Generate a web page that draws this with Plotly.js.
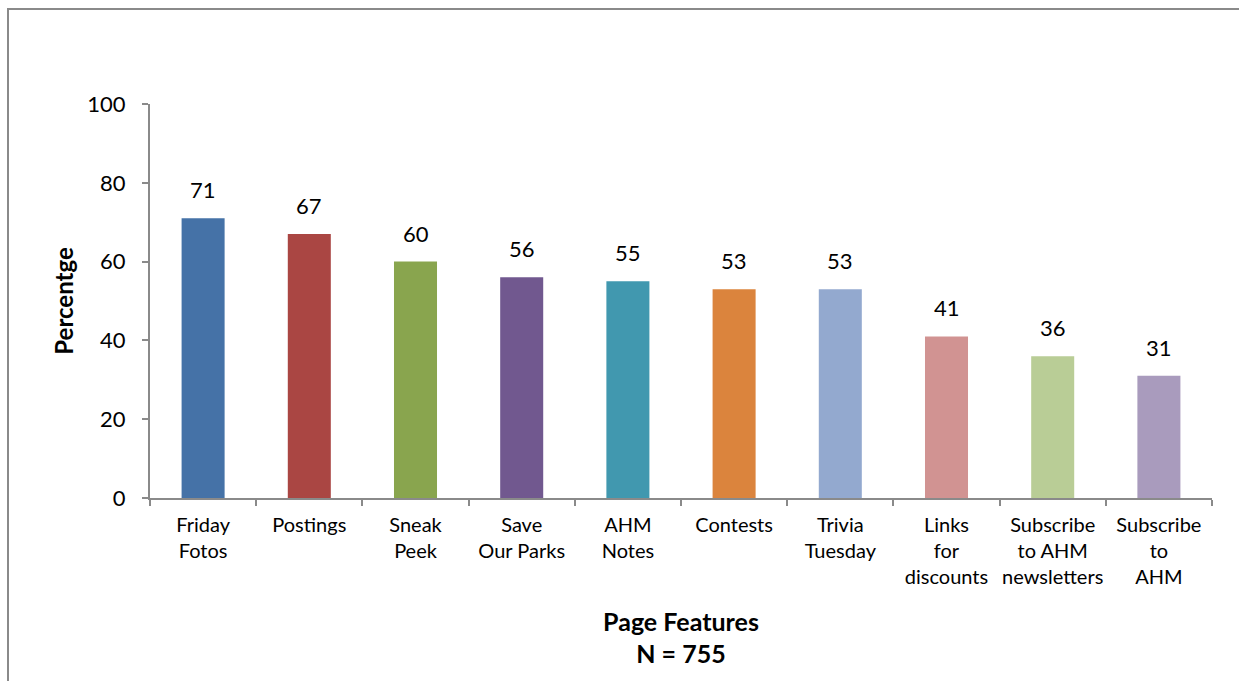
<!DOCTYPE html>
<html>
<head>
<meta charset="utf-8">
<script src="https://cdn.plot.ly/plotly-3.0.1.min.js"></script>
<style>
  html, body { margin: 0; padding: 0; background: #ffffff; overflow: hidden; }
  #wrap { position: relative; width: 1239px; height: 681px; }
  #frame { position: absolute; left: 7px; top: 8px; width: 1260px; height: 700px;
           border-left: 2px solid #8a8a8a; border-top: 2px solid #8a8a8a; pointer-events: none; z-index: 5; }
  #chart { position: absolute; left: 0; top: 0; width: 1239px; height: 681px; }
</style>
</head>
<body>
<div id="wrap">
  <div id="chart"></div>
  <div id="frame"></div>
</div>
<script>
// Share of respondents using each page feature (%)
const categories = [
  "Friday<br>Fotos",
  "Postings",
  "Sneak<br>Peek",
  "Save<br>Our Parks",
  "AHM<br>Notes",
  "Contests",
  "Trivia<br>Tuesday",
  "Links<br>for<br>discounts",
  "Subscribe<br>to AHM<br>newsletters",
  "Subscribe<br>to<br>AHM"
];
const percentages = [71, 67, 60, 56, 55, 53, 53, 41, 36, 31];
const barColors = [
  "#4572A7", "#AA4643", "#89A54E", "#71588F", "#4198AF",
  "#DB843D", "#93A9CF", "#D19392", "#B9CD96", "#A99BBD"
];
const yTickValues = [0, 20, 40, 60, 80, 100];

const FONT = "Lato, 'Open Sans', 'Noto Sans', sans-serif";
const AXIS_GREY = "#8a8a8a";

const trace = {
  type: "bar",
  x: categories,
  y: percentages,
  marker: { color: barColors, line: { width: 0 } },
  hoverinfo: "x+y"
};

// value labels above each bar
const valueLabels = categories.map((c, i) => ({
  x: c,
  y: percentages[i],
  xref: "x",
  yref: "y",
  text: String(percentages[i]),
  showarrow: false,
  yanchor: "bottom",
  yshift: 13,
  font: { family: FONT, size: 22, color: "#000000" }
}));

const layout = {
  width: 1239,
  height: 681,
  margin: { l: 150, r: 27, t: 104, b: 183, pad: 0 },
  paper_bgcolor: "#ffffff",
  plot_bgcolor: "#ffffff",
  showlegend: false,
  bargap: 0.595,
  font: { family: FONT, color: "#000000" },
  xaxis: {
    type: "category",
    showline: true,
    linecolor: AXIS_GREY,
    linewidth: 2,
    showgrid: false,
    zeroline: false,
    ticks: "outside",
    tickson: "boundaries",
    ticklen: 6,
    tickwidth: 2,
    tickcolor: AXIS_GREY,
    tickangle: 0,
    ticklabelstandoff: 8,
    tickfont: { family: FONT, size: 20, color: "#000000" },
    title: {
      text: "<b>Page Features</b><br><b>N = 755</b>",
      font: { family: FONT, size: 25, color: "#000000" },
      standoff: 26
    },
    fixedrange: true
  },
  yaxis: {
    range: [0, 100],
    tickvals: yTickValues,
    ticktext: yTickValues.map(String),
    showline: true,
    linecolor: AXIS_GREY,
    linewidth: 2,
    showgrid: false,
    zeroline: false,
    ticks: "outside",
    ticklen: 6,
    tickwidth: 2,
    tickcolor: AXIS_GREY,
    ticklabelstandoff: 12,
    tickfont: { family: FONT, size: 22, color: "#000000" },
    title: {
      text: "<b>Percentge</b>",
      font: { family: FONT, size: 24, color: "#000000" },
      standoff: 7
    },
    fixedrange: true
  },
  annotations: valueLabels
};

Plotly.newPlot("chart", [trace], layout, { displayModeBar: false, staticPlot: true });
</script>
</body>
</html>
